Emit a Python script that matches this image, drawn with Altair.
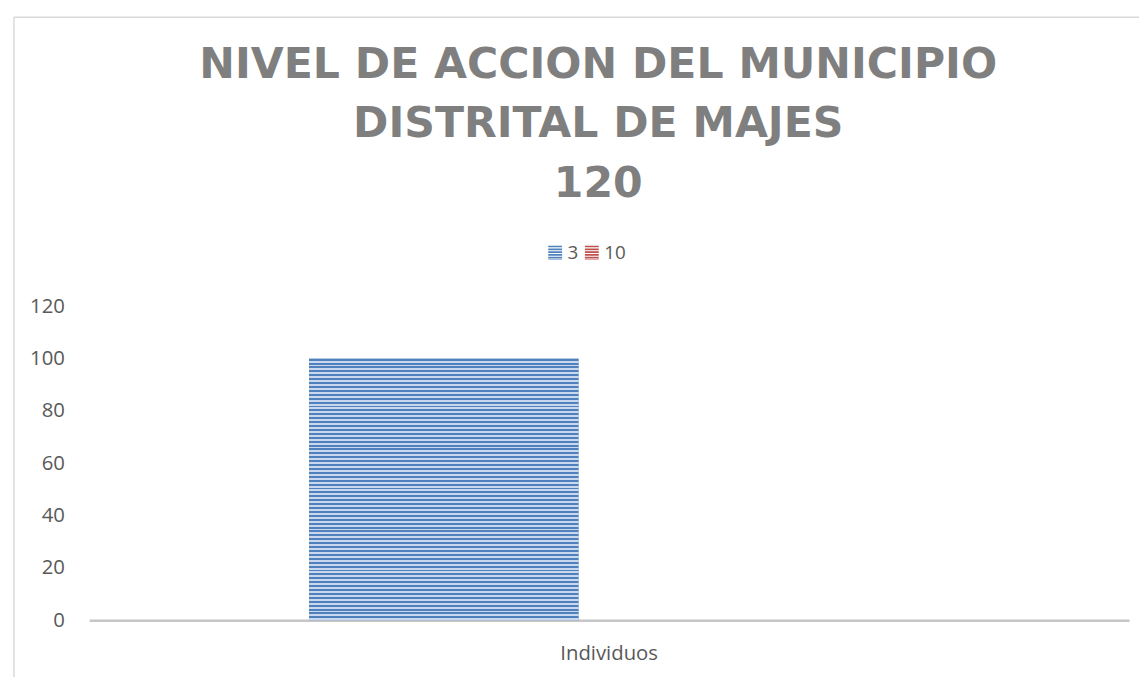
import altair as alt
import pandas as pd

categories = ["Individuos"]
series = ["3", "10"]
values_3 = [100]
values_10 = [0]
title_lines = ["NIVEL DE ACCION DEL MUNICIPIO", "DISTRITAL DE MAJES", "120"]
y_ticks = [0, 20, 40, 60, 80, 100, 120]
series_colors = ["#4f81bd", "#c0504d"]
series_light = ["#c9d8ee", "#eccac9"]

rows = []
for i, c in enumerate(categories):
    rows.append({"categoria": c, "serie": series[0], "valor": values_3[i]})
    rows.append({"categoria": c, "serie": series[1], "valor": values_10[i]})
df = pd.DataFrame(rows)

W, H = 1050, 317
FONT = "Open Sans"


def stripes(dark, light, n):
    stops = []
    for k in range(n):
        a = round(k / n, 5)
        b = round((k + 0.5) / n, 5)
        c = round((k + 1) / n, 5)
        stops += [
            {"offset": a, "color": dark},
            {"offset": b, "color": dark},
            {"offset": b, "color": light},
            {"offset": c, "color": light},
        ]
    return {"gradient": "linear", "x1": 0, "y1": 0, "x2": 0, "y2": 1, "stops": stops}


# striped legend symbol (unit square, horizontal bars)
sym = " ".join(
    f"M-1,{-1 + i * 0.4:.2f}H1V{-1 + i * 0.4 + 0.24:.2f}H-1Z" for i in range(5)
) + " M-1,0.92H1V1H-1Z"

x_enc = alt.X(
    "categoria:N",
    scale=alt.Scale(domain=categories, paddingInner=0, paddingOuter=0),
    axis=alt.Axis(
        title=None, labelAngle=0, domainColor="#c6c6c6", domainWidth=2.5,
        ticks=False, labelFontSize=20.5, labelColor="#595959", labelPadding=24,
        labelFont=FONT,
    ),
)
xo_enc = alt.XOffset(
    "serie:N",
    sort=series,
    scale=alt.Scale(domain=series, range=[222, 766], paddingInner=0, paddingOuter=0),
)
y_enc = alt.Y(
    "valor:Q",
    scale=alt.Scale(domain=[0, 120], nice=False),
    axis=alt.Axis(
        values=y_ticks, title=None, domain=False, ticks=False, grid=False,
        labelFontSize=20.5, labelColor="#595959", labelPadding=25, labelFont=FONT,
    ),
)

base = alt.Chart(df).encode(x=x_enc, xOffset=xo_enc, y=y_enc)

solid = base.mark_bar().encode(
    color=alt.Color(
        "serie:N",
        sort=series,
        scale=alt.Scale(domain=series, range=series_colors),
        legend=alt.Legend(
            orient="none", legendX=461, legendY=-64, direction="horizontal",
            columns=2, title=None, symbolType=sym, symbolSize=196,
            symbolStrokeWidth=0, symbolOpacity=1, labelFontSize=19,
            labelColor="#595959", labelFont=FONT, columnPadding=4, labelOffset=3,
        ),
    )
)

striped = base.mark_bar().encode(
    fill=alt.condition(
        "datum.serie === '3'",
        alt.value(stripes(series_colors[0], series_light[0], 67)),
        alt.value(stripes(series_colors[1], series_light[1], 67)),
    )
)

frame_data = alt.Data(values=[{"k": 1}])
top_border = alt.Chart(frame_data).mark_rule(color="#d9d9d9", strokeWidth=1.5).encode(
    x=alt.value(-76), x2=alt.value(W + 20), y=alt.value(-292)
)
left_border = alt.Chart(frame_data).mark_rule(color="#d9d9d9", strokeWidth=1.5).encode(
    x=alt.value(-76), y=alt.value(-292), y2=alt.value(H + 70)
)

chart = alt.layer(top_border, left_border, solid, striped).properties(
    width=W,
    height=H,
    autosize=alt.AutoSizeParams(type="none"),
    padding={"left": 82, "top": 298, "right": 10, "bottom": 54},
    background="white",
    title=alt.TitleParams(
        text=title_lines, font="DejaVu Sans", fontSize=43, fontWeight="bold",
        color="#7f7f7f", lineHeight=60, anchor="middle", frame="group",
        offset=0, dy=191, dx=-11,
    ),
).configure_view(stroke=None)

chart.save("out.html", embed_options={"renderer": "svg", "actions": False})
